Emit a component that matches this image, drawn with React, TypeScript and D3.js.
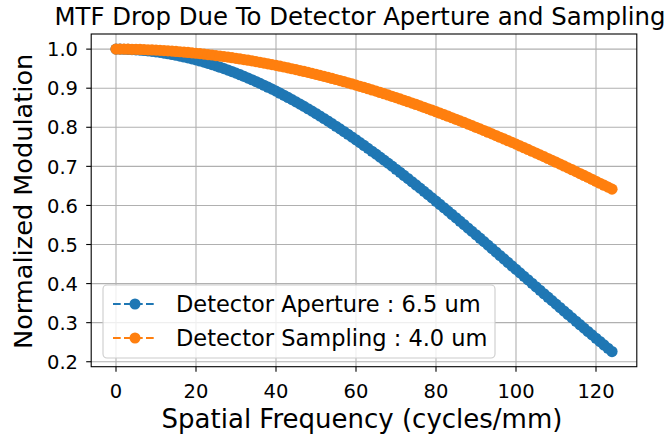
import React from "react";
import * as d3 from "d3";

const freq: number[] = d3.range(0, 125, 1);

const apertureMTF: number[] = [
  1.0, 1.0, 0.9997, 0.9994, 0.9989, 0.9983, 0.9975, 0.9966, 0.9956, 0.9944,
  0.9931, 0.9916, 0.99, 0.9883, 0.9864, 0.9844, 0.9823, 0.98, 0.9776, 0.9751,
  0.9724, 0.9696, 0.9667, 0.9636, 0.9605, 0.9571, 0.9537, 0.9501, 0.9464, 0.9426,
  0.9386, 0.9345, 0.9303, 0.926, 0.9216, 0.917, 0.9123, 0.9075, 0.9026, 0.8976,
  0.8925, 0.8872, 0.8818, 0.8764, 0.8708, 0.8651, 0.8593, 0.8534, 0.8474, 0.8413,
  0.8351, 0.8288, 0.8224, 0.8159, 0.8093, 0.8026, 0.7959, 0.789, 0.7821, 0.775,
  0.7679, 0.7607, 0.7535, 0.7461, 0.7387, 0.7312, 0.7236, 0.716, 0.7082, 0.7005,
  0.6926, 0.6847, 0.6767, 0.6687, 0.6606, 0.6524, 0.6442, 0.636, 0.6277, 0.6193,
  0.6109, 0.6025, 0.594, 0.5855, 0.5769, 0.5683, 0.5597, 0.551, 0.5423, 0.5336,
  0.5248, 0.5161, 0.5073, 0.4985, 0.4896, 0.4808, 0.4719, 0.463, 0.4541, 0.4452,
  0.4363, 0.4274, 0.4185, 0.4096, 0.4007, 0.3918, 0.3829, 0.374, 0.3652, 0.3563,
  0.3474, 0.3386, 0.3298, 0.321, 0.3122, 0.3035, 0.2948, 0.286, 0.2774, 0.2687,
  0.2601, 0.2516, 0.243, 0.2345, 0.2261,
];

const samplingMTF: number[] = [
  1.0, 1.0, 0.9999, 0.9998, 0.9996, 0.9993, 0.9991, 0.9987, 0.9983, 0.9979,
  0.9974, 0.9968, 0.9962, 0.9956, 0.9949, 0.9941, 0.9933, 0.9924, 0.9915, 0.9905,
  0.9895, 0.9884, 0.9873, 0.9861, 0.9849, 0.9836, 0.9823, 0.9809, 0.9795, 0.978,
  0.9765, 0.9749, 0.9733, 0.9716, 0.9699, 0.9681, 0.9662, 0.9644, 0.9624, 0.9604,
  0.9584, 0.9563, 0.9542, 0.952, 0.9498, 0.9476, 0.9452, 0.9429, 0.9405, 0.938,
  0.9355, 0.9329, 0.9303, 0.9277, 0.925, 0.9223, 0.9195, 0.9167, 0.9138, 0.9109,
  0.9079, 0.9049, 0.9019, 0.8988, 0.8956, 0.8925, 0.8892, 0.886, 0.8827, 0.8793,
  0.8759, 0.8725, 0.869, 0.8655, 0.862, 0.8584, 0.8548, 0.8511, 0.8474, 0.8437,
  0.8399, 0.8361, 0.8322, 0.8283, 0.8244, 0.8204, 0.8164, 0.8124, 0.8083, 0.8042,
  0.8, 0.7959, 0.7917, 0.7874, 0.7831, 0.7788, 0.7745, 0.7701, 0.7657, 0.7613,
  0.7568, 0.7523, 0.7478, 0.7433, 0.7387, 0.7341, 0.7294, 0.7248, 0.7201, 0.7154,
  0.7106, 0.7059, 0.7011, 0.6962, 0.6914, 0.6865, 0.6816, 0.6767, 0.6718, 0.6668,
  0.6618, 0.6568, 0.6518, 0.6468, 0.6417,
];

const xTicks: number[] = [0, 20, 40, 60, 80, 100, 120];
const yTicks: number[] = [0.2, 0.3, 0.4, 0.5, 0.6, 0.7, 0.8, 0.9, 1.0];
const seriesNames: string[] = [
  "Detector Aperture : 6.5 um",
  "Detector Sampling : 4.0 um",
];
const seriesColors: string[] = ["#1f77b4", "#ff7f0e"];
const titleText = "MTF Drop Due To Detector Aperture and Sampling";
const xLabel = "Spatial Frequency (cycles/mm)";
const yLabel = "Normalized Modulation";

const W = 665;
const H = 438;
const FONT = "DejaVu Sans";

export default function App() {
  const left = 91.2;
  const right = 636.8;
  const top = 34;
  const bottom = 366.7;

  const x = d3.scaleLinear().domain([-6.2, 130.2]).range([left, right]);
  const y = d3.scaleLinear().domain([0.1873, 1.0387]).range([bottom, top]);

  const series = [apertureMTF, samplingMTF];
  const line = d3
    .line<number>()
    .x((_, i) => x(freq[i]))
    .y((d) => y(d));

  const legendX = 103;
  const legendY = 285;
  const legendW = 392;
  const legendH = 73;
  const rowYs = [304, 338];

  return (
    <svg
      width={W}
      height={H}
      style={{ position: "absolute", left: 0, top: 0, background: "#fff" }}
      fontFamily={FONT}
    >
      <rect x={0} y={0} width={W} height={H} fill="#fff" />
      {xTicks.map((t) => (
        <line
          key={"gx" + t}
          x1={x(t)}
          x2={x(t)}
          y1={top}
          y2={bottom}
          stroke="#b0b0b0"
          strokeWidth={1.1}
        />
      ))}
      {yTicks.map((t) => (
        <line
          key={"gy" + t}
          x1={left}
          x2={right}
          y1={y(t)}
          y2={y(t)}
          stroke="#b0b0b0"
          strokeWidth={1.1}
        />
      ))}
      {series.map((s, si) => (
        <g key={"s" + si}>
          <path
            d={line(s) || ""}
            fill="none"
            stroke={seriesColors[si]}
            strokeWidth={2}
            strokeDasharray="7.7,3.3"
          />
          {s.map((v, i) => (
            <circle
              key={i}
              cx={x(freq[i])}
              cy={y(v)}
              r={5.6}
              fill={seriesColors[si]}
            />
          ))}
        </g>
      ))}
      <rect
        x={left}
        y={top}
        width={right - left}
        height={bottom - top}
        fill="none"
        stroke="#000"
        strokeWidth={1.1}
      />
      {xTicks.map((t) => (
        <g key={"xt" + t}>
          <line
            x1={x(t)}
            x2={x(t)}
            y1={bottom}
            y2={bottom + 5}
            stroke="#000"
            strokeWidth={1.1}
          />
          <text
            x={x(t)}
            y={398}
            textAnchor="middle"
            fontSize={19.5}
            fill="#000"
          >
            {String(t)}
          </text>
        </g>
      ))}
      {yTicks.map((t) => (
        <g key={"yt" + t}>
          <line
            x1={left - 5}
            x2={left}
            y1={y(t)}
            y2={y(t)}
            stroke="#000"
            strokeWidth={1.1}
          />
          <text
            x={78}
            y={y(t) + 7.2}
            textAnchor="end"
            fontSize={19.5}
            fill="#000"
          >
            {d3.format(".1f")(t)}
          </text>
        </g>
      ))}
      <text x={360} y={25} textAnchor="middle" fontSize={24.4} fill="#000">
        {titleText}
      </text>
      <text x={362} y={428} textAnchor="middle" fontSize={26} fill="#000">
        {xLabel}
      </text>
      <text
        transform={`translate(32,${(top + bottom) / 2 + 1}) rotate(-90)`}
        textAnchor="middle"
        fontSize={25.6}
        fill="#000"
      >
        {yLabel}
      </text>
      <rect
        x={legendX}
        y={legendY}
        width={legendW}
        height={legendH}
        rx={4}
        ry={4}
        fill="#fff"
        fillOpacity={0.8}
        stroke="#cccccc"
        strokeWidth={1.1}
      />
      {seriesNames.map((name, i) => (
        <g key={"lg" + i}>
          <line
            x1={113}
            x2={157}
            y1={rowYs[i]}
            y2={rowYs[i]}
            stroke={seriesColors[i]}
            strokeWidth={2}
            strokeDasharray="7.7,3.3"
          />
          <circle cx={135} cy={rowYs[i]} r={5.5} fill={seriesColors[i]} />
          <text x={176} y={rowYs[i] + 8} fontSize={22.5} fill="#000">
            {name}
          </text>
        </g>
      ))}
    </svg>
  );
}
